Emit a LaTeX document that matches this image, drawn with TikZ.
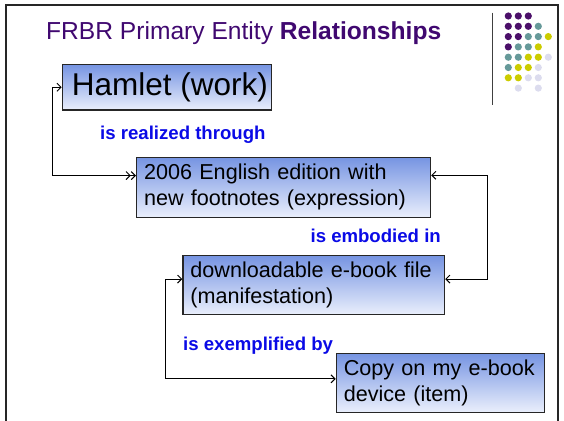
\documentclass[tikz,border=0pt]{standalone}
\usepackage{fontspec}
\setmainfont{Liberation Sans}
\usetikzlibrary{arrows.meta, positioning}
\definecolor{frpurple}{RGB}{64, 8, 112}
\definecolor{frblue}{RGB}{10, 10, 230}
\definecolor{boxtop}{RGB}{118, 148, 226}
\definecolor{boxbot}{RGB}{234, 239, 252}
\definecolor{dotpurple}{RGB}{75, 15, 105}
\definecolor{dotteal}{RGB}{102, 153, 153}
\definecolor{dotyellow}{RGB}{204, 204, 0}
\definecolor{dotlilac}{RGB}{220, 220, 238}

\begin{document}
\begin{tikzpicture}[x=1pt, y=-1pt,
    entity/.style={draw=black!85, line width=1.2pt, top color=boxtop,
      bottom color=boxbot, anchor=north west, align=left,
      inner xsep=7.5pt, inner ysep=0pt,
      font=\fontsize{21.6}{26}\selectfont},
    rel/.style={text=frblue, inner sep=0pt,
      font=\fontsize{18.6}{22}\selectfont\bfseries},
    link/.style={line width=1pt,
      {Straight Barb[length=4pt, width=8pt]}-{Straight Barb[length=4pt, width=8pt]}}]
  \useasboundingbox (0,0) rectangle (564,420);

  % Slide frame and title
  \draw[line width=2pt, black!85] (6,421) -- (6,5) -- (558,5) -- (558,421);
  \node[anchor=base west, text=frpurple, inner sep=0pt,
        font=\fontsize{24.6}{28}\selectfont]
    (title) at (46,39.3) {FRBR Primary Entity \textbf{Relationships}};

  % Corner decoration
  \draw[line width=0.8pt, black!75] (492.3,12.7) -- (492.3,105);
  \foreach \col/\pts in {dotpurple/{0/0,1/0,2/0,0/1,1/1,2/1,0/2,1/2,0/3},
                         dotteal/{3/1,2/2,3/2,1/3,2/3,0/4,1/4,0/5},
                         dotyellow/{4/2,3/3,2/4,3/4,1/5,2/5,0/6,1/6},
                         dotlilac/{4/4,3/5,2/6,3/6,1/7,3/7}}
    \foreach \c/\r in \pts
      \fill[\col] (508.3+10*\c, 16+10.3*\r) circle (3.6);

  % Entities
  \node[entity, inner xsep=0pt, minimum width=209pt, minimum height=45.3pt,
        align=center, font=\fontsize{31.5}{36}\selectfont]
    (work) at (61.7,64) {\hspace*{6pt}Hamlet (work)};
  \node[entity, text width=279pt, minimum height=60pt]
    (expr) at (136,156.7) {2006 English edition with\\new footnotes (expression)};
  \node[entity, text width=246.7pt, minimum height=59pt]
    (manif) at (182.3,255) {downloadable e-book file\\(manifestation)};
  \node[entity, text width=193.3pt, minimum height=59pt]
    (item) at (335.7,352.7) {Copy on my e-book\\device (item)};

  % Relationships
  \draw[link, {Straight Barb[length=4pt, width=8pt]}-{Straight Barb[length=4pt, width=8pt] Straight Barb[length=4pt, width=8pt]}]
    (work.west) -- ++(-9,0) |- ([yshift=11.7pt]expr.west);
  \node[rel, anchor=base west] (realized) at (100,139) {is realized through};

  \draw[link] ([yshift=12pt]expr.east) -- ++(56,0) |- ([yshift=6pt]manif.east);
  \node[rel, anchor=base east] (embodied) at (441,242) {is embodied in};

  \draw[link] ([yshift=6pt]manif.west) -- ++(-17,0) |- ([yshift=4pt]item.west);
  \node[rel, anchor=base west] (exemplified) at (183,350.7) {is exemplified by};
\end{tikzpicture}
\end{document}
